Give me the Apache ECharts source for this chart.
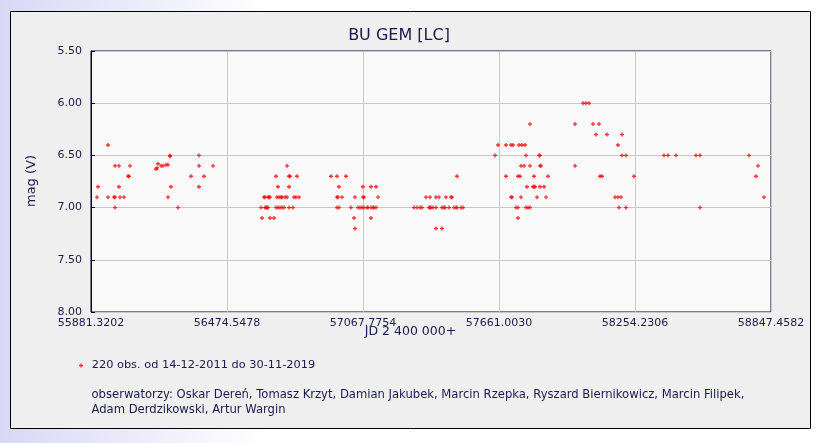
<!DOCTYPE html>
<html>
<head>
<meta charset="utf-8">
<script src="https://cdn.jsdelivr.net/npm/echarts@6/dist/echarts.min.js"></script>
<style>
	html, body { margin: 0; padding: 0; }
	#chart { width: 825px; height: 443px; }
</style>
</head>
<body>
<div id="chart"></div>
<script>
	// JD 2 400 000+ of each observation and its visual estimate
	const jd = [
		55907.5, 55911.8, 55955.5, 55955.5, 55981.6, 55986.0, 55986.0, 55986.0, 56003.4, 56003.4, 56007.8,
		56025.2, 56042.7, 56047.1, 56051.4, 56164.8, 56169.2, 56173.6, 56186.6, 56195.4, 56208.5, 56217.2,
		56217.2, 56225.9, 56225.9, 56230.3, 56260.8, 56317.5, 56352.4, 56352.4, 56352.4, 56374.2, 56413.5,
		// 2013/14
		56622.8, 56627.2, 56635.9, 56640.3, 56640.3, 56644.7, 56649.0, 56653.4, 56653.4, 56657.7,
		56662.1, 56662.1, 56679.5, 56688.3, 56688.3, 56692.6, 56697.0, 56697.0, 56701.4, 56705.7,
		56710.1, 56714.4, 56714.4, 56723.2, 56727.5, 56736.3, 56736.3, 56745.0, 56745.0, 56745.0,
		56749.3, 56762.4, 56766.8, 56775.5, 56779.9, 56788.6, 56928.2, 56954.4, 56954.4, 56954.4,
		56958.7, 56963.1, 56963.1, 56976.2, 56993.6, 57015.4, 57028.5, 57032.9, 57032.9, 57046.0,
		57054.7, 57063.4, 57067.8, 57067.8, 57072.1, 57072.1, 57085.2, 57089.6, 57102.7, 57102.7,
		57102.7, 57111.4, 57115.7, 57124.5, 57124.5, 57133.2,
		// 2015/16
		57290.2, 57303.3, 57316.4, 57325.1, 57342.6, 57355.7, 57360.0, 57360.0, 57364.4, 57373.1,
		57386.2, 57386.2, 57386.2, 57399.3, 57412.4, 57412.4, 57421.1, 57425.4, 57429.8, 57442.9,
		57451.6, 57456.0, 57464.7, 57473.4, 57477.8, 57477.8, 57495.2, 57504.0,
		// 2016/17
		57643.5, 57656.6, 57691.5, 57691.5, 57713.3, 57713.3, 57717.7, 57722.1, 57735.2, 57743.9,
		57743.9, 57743.9, 57748.2, 57752.6, 57757.0, 57757.0, 57761.3, 57770.0, 57774.4, 57778.8,
		57778.8, 57783.1, 57787.5, 57796.2, 57796.2, 57796.2, 57809.3, 57813.7, 57813.7, 57818.0,
		57826.8, 57835.5, 57839.8, 57839.8, 57839.8, 57844.2, 57857.3, 57866.0, 57874.7,
		// 2017/18
		57992.5, 57992.5, 58027.4, 58040.5, 58053.6, 58071.0, 58084.1, 58097.2, 58101.6, 58110.3,
		58132.1, 58167.0, 58180.1, 58180.1, 58184.4, 58193.2, 58197.5, 58197.5, 58215.0, 58215.0,
		58249.9,
		// 2018/19
		58380.7, 58398.2, 58433.1, 58520.3, 58537.8, 58537.8, 58751.5, 58782.0, 58790.8, 58816.9
	]
	const mag = [
		6.9, 6.8, 6.4, 6.9, 6.9, 6.6, 6.9, 7.0, 6.6, 6.8, 6.9,
		6.9, 6.7, 6.7, 6.6, 6.63, 6.62, 6.58, 6.60, 6.60, 6.59, 6.59,
		6.9, 6.5, 6.51, 6.8, 7.0, 6.7, 6.5, 6.6, 6.8, 6.7, 6.6,
		// 2013/14
		7.0, 7.1, 6.9, 6.9, 7.0, 7.0, 7.0, 6.9, 7.0, 6.9,
		6.9, 7.1, 7.1, 6.7, 7.0, 6.9, 6.8, 7.0, 6.9, 7.0,
		6.9, 6.9, 7.0, 7.0, 6.9, 6.6, 6.9, 6.7, 6.8, 7.0,
		6.7, 7.0, 6.9, 6.9, 6.7, 6.9, 6.7, 6.7, 6.9, 7.0,
		6.9, 6.8, 7.0, 6.9, 6.7, 7.0, 7.1, 6.9, 7.2, 7.0,
		7.0, 7.0, 6.8, 6.9, 6.9, 7.0, 7.0, 7.0, 6.8, 7.0,
		7.1, 7.0, 7.0, 6.8, 7.0, 6.9,
		// 2015/16
		7.0, 7.0, 7.0, 7.0, 6.9, 7.0, 6.9, 7.0, 7.0, 7.0,
		6.9, 7.0, 7.2, 6.9, 7.0, 7.2, 7.0, 7.0, 6.9, 7.0,
		6.9, 6.9, 7.0, 7.0, 6.7, 7.0, 7.0, 7.0,
		// 2016/17
		6.5, 6.4, 6.4, 6.7, 6.4, 6.9, 6.9, 6.4, 7.0, 6.7,
		7.0, 7.1, 6.4, 6.7, 6.6, 6.9, 6.4, 6.6, 6.4, 6.5,
		7.0, 6.8, 7.0, 6.2, 6.6, 7.0, 6.8, 6.7, 6.8, 6.8,
		6.9, 6.5, 6.5, 6.6, 6.8, 6.6, 6.8, 6.9, 6.7,
		// 2017/18
		6.2, 6.6, 6.0, 6.0, 6.0, 6.2, 6.3, 6.2, 6.7, 6.7,
		6.3, 6.9, 6.4, 6.9, 7.0, 6.9, 6.3, 6.5, 6.5, 7.0,
		6.7,
		// 2018/19
		6.5, 6.5, 6.5, 6.5, 6.5, 7.0, 6.5, 6.7, 6.6, 6.9
	]

	const xMin = 55881.3202
	const xStep = 593.2276 // 5 steps up to 58847.4582
	const magTicks = [5.5, 6.0, 6.5, 7.0, 7.5, 8.0]

	const seriesName = '220 obs. od 14-12-2011 do 30-11-2019'
	const observers = 'obserwatorzy: Oskar Dereń, Tomasz Krzyt, Damian Jakubek, Marcin Rzepka, Ryszard Biernikowicz, Marcin Filipek,\nAdam Derdzikowski, Artur Wargin'

	const ink = '#1a1a4e'
	const font = 'DejaVu Sans, Verdana, sans-serif'
	const plus = 'path://M1,0H2V3H1ZM0,1H3V2H0Z'

	const chart = echarts.init(document.getElementById('chart'))

	chart.setOption({
		animation: false,
		backgroundColor: new echarts.graphic.LinearGradient(0, 0, 1, 0, [
			{ offset: 0, color: '#d8d8f6' },
			{ offset: 0.32, color: '#ffffff' },
			{ offset: 1, color: '#ffffff' }
		]),
		textStyle: { fontFamily: font },
		graphic: [
			{
				type: 'rect', z: -10, silent: true,
				shape: { x: 10.5, y: 11.5, width: 800, height: 417 },
				style: { fill: '#efefef', stroke: '#000000', lineWidth: 1 }
			},
			{
				type: 'text', x: 399, y: 36,
				style: { text: 'BU GEM [LC]', font: '16px ' + font, fill: ink, align: 'center', verticalAlign: 'middle' }
			},
			{
				type: 'text', x: 31.5, y: 181, rotation: Math.PI / 2,
				style: { text: 'mag (V)', font: '13px ' + font, fill: ink, align: 'center', verticalAlign: 'middle' }
			},
			{
				type: 'text', x: 410.5, y: 331.5,
				style: { text: 'JD 2 400 000+', font: '12.5px ' + font, fill: ink, align: 'center', verticalAlign: 'middle' }
			},
			{
				type: 'text', x: 91.5, y: 387.5,
				style: { text: observers, font: '11.6px ' + font, fill: ink, lineHeight: 15 }
			}
		],
		legend: {
			left: 79,
			top: 360,
			padding: 0,
			icon: plus,
			itemWidth: 4,
			itemHeight: 4,
			textStyle: { color: ink, fontSize: 11.35, fontFamily: font, padding: [0, 0, 0, 3.7] },
			data: [seriesName]
		},
		grid: {
			left: 91,
			top: 51,
			width: 680,
			height: 261,
			show: true,
			backgroundColor: '#fafafa',
			borderColor: '#000033',
			borderWidth: 1
		},
		xAxis: {
			type: 'value',
			min: 0,
			max: xStep * 5,
			interval: xStep,
			axisLine: { show: false },
			axisTick: { show: false },
			axisLabel: {
				color: ink,
				fontSize: 11,
				margin: 6,
				showMinLabel: true,
				showMaxLabel: true,
				formatter: v => (v + xMin).toFixed(4)
			},
			splitLine: { lineStyle: { color: '#c8c8c8' } }
		},
		yAxis: {
			type: 'value',
			inverse: true,
			min: magTicks[0],
			max: magTicks[magTicks.length - 1],
			interval: 0.5,
			axisLine: { show: true, lineStyle: { color: '#000033' } },
			axisTick: { show: true, inside: true, length: 4, lineStyle: { color: '#000033' } },
			axisLabel: { color: ink, fontSize: 11, margin: 9, formatter: v => v.toFixed(2) },
			splitLine: { lineStyle: { color: '#c8c8c8' } }
		},
		series: [{
			name: seriesName,
			type: 'scatter',
			symbol: plus,
			symbolSize: 4,
			itemStyle: { color: '#ff0000' },
			data: jd.map((d, i) => [d - xMin, mag[i]])
		}]
	})
</script>
</body>
</html>
